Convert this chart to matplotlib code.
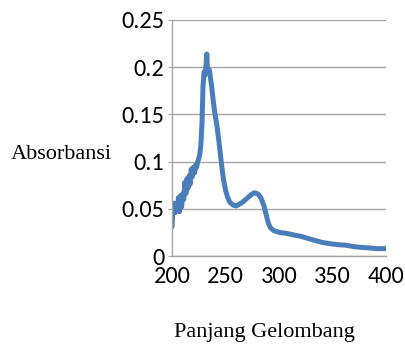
import matplotlib
matplotlib.use('Agg')
import matplotlib.pyplot as plt

# panjang gelombang (nm) dan absorbansi
wl = [200, 201, 202, 203, 204, 205, 206, 207, 208, 209, 210, 211, 212, 213, 214,
      215, 216, 217, 218, 219, 220, 221, 222, 223, 224, 225, 226, 227, 228, 229,
      230, 231, 232, 232.5, 233, 234, 235, 236, 237, 238, 239, 240, 242, 244, 246,
      248, 250, 252, 254, 257, 260, 263, 266, 270, 274, 277, 280, 283, 286, 288,
      290, 292, 295, 300, 307, 315, 320, 326, 332, 340, 348, 355, 362, 370, 376,
      385, 392, 400]
absb = [0.031, 0.052, 0.056, 0.046, 0.055, 0.048, 0.062, 0.047, 0.064, 0.052,
        0.066, 0.060, 0.078, 0.066, 0.082, 0.072, 0.085, 0.076, 0.092, 0.084,
        0.094, 0.088, 0.096, 0.094, 0.100, 0.103, 0.108, 0.118, 0.140, 0.180,
        0.195, 0.192, 0.205, 0.214, 0.200, 0.194, 0.197, 0.188, 0.180, 0.170,
        0.160, 0.152, 0.138, 0.120, 0.100, 0.082, 0.070, 0.062, 0.057, 0.054,
        0.053, 0.055, 0.057, 0.061, 0.065, 0.067, 0.066, 0.062, 0.053, 0.044,
        0.035, 0.030, 0.027, 0.025, 0.024, 0.022, 0.021, 0.019, 0.017, 0.0145,
        0.013, 0.012, 0.0115, 0.010, 0.0092, 0.0085, 0.0078, 0.0078]

xticks = [200, 250, 300, 350, 400]
yticks = [0, 0.05, 0.1, 0.15, 0.2, 0.25]
yticklabels = ['0', '0.05', '0.1', '0.15', '0.2', '0.25']

fig = plt.figure(figsize=(4.05, 3.52), dpi=100)
ax = fig.add_axes([0.4247, 0.2727, 0.5283, 0.6705])

ax.plot(wl, absb, color='#4a7ebb', lw=3.6, solid_capstyle='round', solid_joinstyle='round')

ax.set_xlim(200, 400)
ax.set_ylim(0, 0.25)
ax.set_xticks(xticks)
ax.set_xticklabels([str(t) for t in xticks])
ax.set_yticks(yticks)
ax.set_yticklabels(yticklabels)
ax.grid(axis='y', color='#a6a6a6', lw=1)
ax.set_axisbelow(True)

for s in ['top', 'right']:
    ax.spines[s].set_visible(False)
for s in ['left', 'bottom']:
    ax.spines[s].set_color('#a6a6a6')
    ax.spines[s].set_linewidth(1)

tickfont = ['Carlito', 'DejaVu Sans']
for lab in ax.get_xticklabels() + ax.get_yticklabels():
    lab.set_fontfamily(tickfont)
    lab.set_fontsize(17.5)
ax.tick_params(axis='x', length=0, pad=7)
ax.tick_params(axis='y', length=3, color='#a6a6a6', pad=2.5)

fig.text(0.027, 0.56, 'Absorbansi', fontsize=16, family='Liberation Serif',
         ha='left', va='center')
fig.text(0.652, 0.055, 'Panjang Gelombang', fontsize=16, family='Liberation Serif',
         ha='center', va='center')

fig.savefig('out.png', dpi=100)
